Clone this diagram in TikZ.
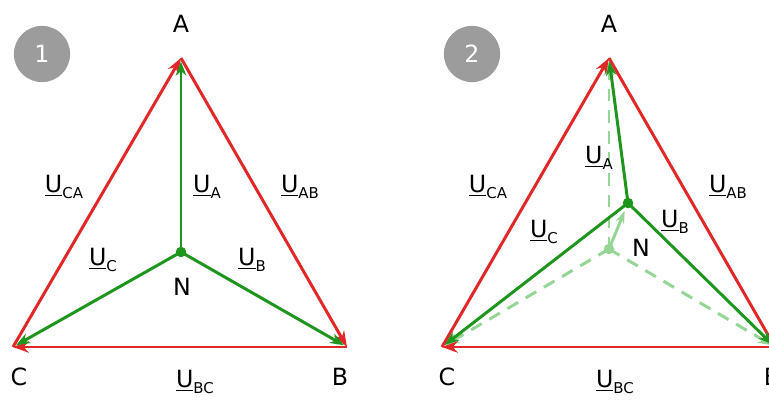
\documentclass[tikz,border=0pt]{standalone}
\usepackage{fontspec}
\setmainfont{DejaVu Sans}
\usetikzlibrary{arrows.meta}
\definecolor{linered}{HTML}{E02828}
\definecolor{phgreen}{HTML}{1E961E}
\definecolor{phfade}{HTML}{95D595}
\definecolor{badgegray}{HTML}{9C9C9C}
\newcommand\lbl{\fontsize{13.5}{15}\selectfont}
\newcommand\uvolt[1]{\underline{U}\raisebox{-0.45ex}{\fontsize{8.5}{9}\selectfont #1}}
\tikzset{
  uline/.style={linered,line width=1.7pt,-{Stealth[length=9pt,width=6.5pt]}},
  uphase/.style={phgreen,line width=1.7pt,shorten >=2pt,-{Stealth[length=8pt,width=6pt]}},
  ufade/.style={phfade,line width=1.7pt,dashed,dash pattern=on 7pt off 5pt,shorten >=2pt,-{Stealth[length=8pt,width=6pt]}},
  badge/.style={circle,fill=badgegray,text=white,minimum size=32pt,inner sep=0pt}
}

\begin{document}
\begin{tikzpicture}[x=0.02cm,y=-0.02cm,font=\lbl]
\useasboundingbox (0,0) rectangle (769,400);
% 1: symmetric load
\coordinate (A1) at (181,58);\coordinate (B1) at (347,347);\coordinate (C1) at (13,347);
\coordinate (N1) at (181,252);
\node[badge] (k1) at (42,54){1};
\draw[uline] (C1)--(A1);\draw[uline] (A1)--(B1);\draw[uline] (B1)--(C1);
\draw[uphase] (N1)--(A1);\draw[uphase] (N1)--(B1);\draw[uphase] (N1)--(C1);
\fill[phgreen] (N1) circle (3pt);
\node (a1) at (181,24){A};\node (b1) at (340,377){B};\node (c1) at (19,377){C};
\node (n1) at (182,287){N};
\node (uca1) at (64,187){\uvolt{CA}};\node (uab1) at (300,187){\uvolt{AB}};
\node (ubc1) at (195,382){\uvolt{BC}};\node (ua1) at (207,187){\uvolt{A}};
\node (ub1) at (252,260){\uvolt{B}};\node (uc1) at (103,260){\uvolt{C}};
% 2: shifted star point
\coordinate (A2) at (609,58);\coordinate (B2) at (775,347);\coordinate (C2) at (442,347);
\coordinate (N2) at (628,203);\coordinate (M2) at (609,249);
\node[badge] (k2) at (472,54){2};
\draw[ufade] (M2)--(A2);\draw[ufade] (M2)--(B2);\draw[ufade] (M2)--(C2);
\draw[phfade,line width=1.7pt,shorten >=5pt,-{Stealth[length=7pt,width=5pt]}] (M2)--(N2);
\fill[phfade] (M2) circle (3pt);
\draw[uline] (C2)--(A2);\draw[uline] (A2)--(B2);\draw[uline] (B2)--(C2);
\draw[uphase] (N2)--(A2);\draw[uphase] (N2)--(B2);\draw[uphase] (N2)--(C2);
\fill[phgreen] (N2) circle (3pt);
\node (a2) at (609,24){A};\node (b2) at (772,377){B};\node (c2) at (447,377){C};
\node (n2) at (641,248){N};
\node (uca2) at (488,187){\uvolt{CA}};\node (uab2) at (728,187){\uvolt{AB}};
\node (ubc2) at (615,382){\uvolt{BC}};\node (ua2) at (599,158){\uvolt{A}};
\node (ub2) at (675,222){\uvolt{B}};\node (uc2) at (544,232){\uvolt{C}};
\end{tikzpicture}
\end{document}
